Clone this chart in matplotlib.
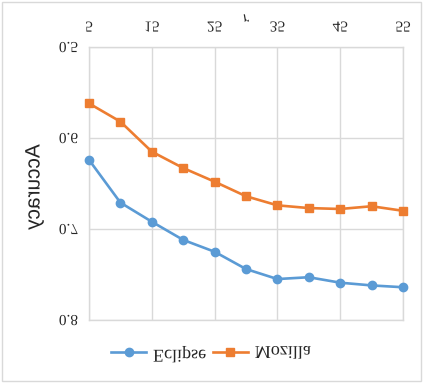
import matplotlib
matplotlib.use("Agg")
import matplotlib.pyplot as plt
from matplotlib.patheffects import AbstractPathEffect
from matplotlib.transforms import Affine2D
from matplotlib.patches import Rectangle

r_values = [5, 10, 15, 20, 25, 30, 35, 40, 45, 50, 55]
eclipse = [0.624, 0.671, 0.692, 0.712, 0.725, 0.744, 0.755, 0.753, 0.759, 0.762, 0.764]
mozilla = [0.562, 0.582, 0.615, 0.633, 0.648, 0.664, 0.674, 0.677, 0.678, 0.675, 0.680]
x_ticks = [5, 15, 25, 35, 45, 55]
y_ticks = [0.5, 0.6, 0.7, 0.8]
series_names = ["Eclipse", "Mozilla"]


class VFlip(AbstractPathEffect):
    """Draw text mirrored top-to-bottom (the reference image is flipped)."""
    def draw_path(self, renderer, gc, tpath, affine, rgbFace=None):
        ext = tpath.get_extents(affine)
        cy = 0.5 * (ext.y0 + ext.y1)
        t = affine + Affine2D().translate(0, -cy).scale(1, -1).translate(0, cy)
        renderer.draw_path(gc, tpath, t, rgbFace)


W, H = 423, 383
fig = plt.figure(figsize=(W / 100, H / 100), dpi=100)
ax = fig.add_axes([89 / W, 1 - 320 / H, (403 - 89) / W, (320 - 47) / H])

blue = "#5B9BD5"
orange = "#ED7D31"
grid_c = "#D9D9D9"
txt_c = "#262626"

ax.plot(r_values, eclipse, color=blue, lw=1.9, marker="o", ms=6, label=series_names[0], clip_on=False, zorder=3)
ax.plot(r_values, mozilla, color=orange, lw=1.9, marker="s", ms=5.8, label=series_names[1], clip_on=False, zorder=3)

ax.set_xlim(5, 55)
ax.set_ylim(0.8, 0.5)
ax.set_xticks(x_ticks)
ax.set_yticks(y_ticks)
ax.set_yticklabels([f"{v:.1f}" for v in y_ticks])
ax.xaxis.tick_top()
ax.grid(True, color=grid_c, lw=1)
for s in ax.spines.values():
    s.set_color(grid_c)
    s.set_linewidth(1)
ax.tick_params(length=0)
ax.tick_params(axis="x", pad=9)
ax.tick_params(axis="y", pad=8)

fe = [VFlip()]
for lab in ax.get_xticklabels() + ax.get_yticklabels():
    lab.set_fontfamily("Liberation Serif")
    lab.set_fontsize(11)
    lab.set_color(txt_c)
    lab.set_path_effects(fe)

fig.text(246 / W, 1 - 18 / H, "r", ha="center", va="center", fontsize=11,
         family="Liberation Serif", style="italic", color=txt_c, path_effects=fe)
fig.text(34 / W, 1 - 187 / H, "Accuracy", ha="center", va="center", rotation=90,
         fontsize=15, family="Liberation Sans", color=txt_c, path_effects=fe)

leg = fig.legend(loc="center", bbox_to_anchor=(211 / W, 1 - 354 / H), ncol=2, frameon=False,
                 handlelength=1.9, columnspacing=0.4, handletextpad=0.4,
                 prop={"family": "Liberation Serif", "size": 13})
for t in leg.get_texts():
    t.set_color(txt_c)
    t.set_path_effects(fe)

fig.patches.append(Rectangle((2 / W, 2 / H), (W - 4) / W, (H - 4) / H, transform=fig.transFigure,
                             fill=False, edgecolor=grid_c, lw=1))

fig.savefig("out.png", dpi=100)
